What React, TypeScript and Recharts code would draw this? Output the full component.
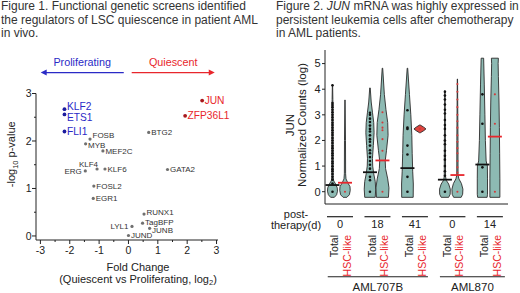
import React from "react";
import {
  ScatterChart,
  ComposedChart,
  Scatter,
  XAxis,
  YAxis,
  ReferenceLine,
} from "recharts";

const FONT = "'Liberation Sans', Arial, Helvetica, sans-serif";
const INK = "#222";
const BLUE = "#2a2ac6";
const BLUE_DOT = "#1c1c9e";
const RED = "#e8262c";
const RED_DOT = "#a8181c";
const GRAY_DOT = "#707070";
const VIOLIN = "#8dbab3";

// ---- Figure 1: screen hits ----
const prolGenes = ["KLF2", "ETS1", "FLI1"];
const prolFold = [-2.18, -2.18, -2.18];
const prolLogP = [2.67, 2.56, 2.2];

const quiesGenes = ["JUN", "ZFP36L1"];
const quiesFold = [2.51, 1.93];
const quiesLogP = [2.85, 2.53];

const otherGenes = [
  "BTG2", "FOSB", "MYB", "MEF2C", "ERG", "KLF4", "KLF6", "FOSL2",
  "EGR1", "GATA2", "RUNX1", "TagBFP", "JUNB", "LYL1", "JUND",
];
const otherFold = [
  0.69, -1.31, -1.46, -0.87, -1.47, -1.07, -0.8, -1.18,
  -1.2, 1.33, 0.53, 0.48, 0.72, 0.12, 0.0,
];
const otherLogP = [
  2.18, 2.04, 1.94, 1.79, 1.37, 1.41, 1.41, 1.05,
  0.79, 1.4, 0.46, 0.27, 0.16, 0.2, 0.01,
];

const foldTicks = [-3, -2.5, -2, -1.5, -1, -0.5, 0, 0.5, 1, 1.5, 2, 2.5, 3];
const logPTicks = [0, 0.5, 1, 1.5, 2, 2.5, 3];

// label placement (style, not data)
const labelLeft = ["ERG", "LYL1"];
const labelAboveLeft = ["KLF4"];
const labelNudge: Record<string, number> = {
  KLF2: -2.5,
  ETS1: 3,
  FOSB: -3.5,
  MYB: 1,
  RUNX1: -1.5,
  TagBFP: -1,
  JUNB: 1.5,
};

// arrows above the plot (data coords)
const arrowLevel = 3.44;
const prolArrow = [-0.16, -2.99];
const quiesArrow = [0.11, 2.94];

// ---- Figure 2: JUN expression ----
const sampleX = [1, 2, 4, 5, 7, 8, 10, 11, 13, 14];
const sampleType = [
  "Total", "HSC-like", "Total", "HSC-like", "Total",
  "HSC-like", "Total", "HSC-like", "Total", "HSC-like",
];
const pairDays = ["0", "18", "41", "0", "14"];
const medians = [0.26, 0.35, 0.76, 1.22, 0.92, null, 0.47, 0.65, 1.06, 2.15];

const groupNames = ["AML707B", "AML870"];
const groupFrom = [0.62, 9.6];
const groupTo = [8.64, 14.8];
const groupLevel = -3.32;

// violin outlines: [log count, half width in x units]
const vTotal707d0 = [[-0.22, 0.15], [-0.12, 0.33], [0.02, 0.4], [0.15, 0.38], [0.3, 0.25], [0.42, 0.1], [0.55, 0.05], [1.5, 0.05], [3.0, 0.04], [3.6, 0.03], [4.17, 0.01]];
const vHsc707d0 = [[-0.22, 0.15], [-0.12, 0.35], [0.05, 0.42], [0.2, 0.4], [0.35, 0.22], [0.5, 0.08], [0.7, 0.05], [2.0, 0.04], [3.58, 0.01]];
const vTotal707d18 = [[-0.22, 0.42], [0.1, 0.46], [0.4, 0.42], [0.7, 0.3], [1.0, 0.22], [1.3, 0.2], [1.8, 0.27], [2.3, 0.33], [2.7, 0.3], [3.1, 0.2], [3.5, 0.1], [4.05, 0.02]];
const vHsc707d18 = [[-0.22, 0.48], [0.15, 0.52], [0.5, 0.42], [0.9, 0.25], [1.2, 0.22], [1.6, 0.32], [2.2, 0.45], [2.7, 0.42], [3.2, 0.28], [3.8, 0.15], [4.82, 0.02]];
const vTotal707d41 = [[-0.22, 0.46], [0.3, 0.47], [0.8, 0.42], [1.5, 0.38], [2.2, 0.35], [3.0, 0.27], [3.8, 0.16], [4.82, 0.02]];
const vHsc707d41 = [[2.3, 0.03], [2.38, 0.3], [2.45, 0.48], [2.52, 0.3], [2.6, 0.03]];
const vTotal870d0 = [[-0.22, 0.3], [-0.1, 0.42], [0.1, 0.43], [0.3, 0.3], [0.45, 0.1], [0.6, 0.05], [2.0, 0.04], [3.95, 0.01]];
const vHsc870d0 = [[-0.22, 0.3], [-0.1, 0.42], [0.1, 0.44], [0.32, 0.32], [0.5, 0.12], [0.65, 0.05], [2.0, 0.045], [4.4, 0.01]];
const vTotal870d14 = [[-0.22, 0.38], [-0.1, 0.41], [0.5, 0.41], [1.0, 0.4], [1.2, 0.3], [2.0, 0.24], [3.0, 0.2], [4.2, 0.15], [5.21, 0.1]];
const vHsc870d14 = [[-0.22, 0.4], [0.5, 0.4], [1.5, 0.38], [2.5, 0.36], [3.5, 0.33], [4.5, 0.28], [5.0, 0.26], [5.21, 0.28]];
const violinProfiles = [
  vTotal707d0, vHsc707d0, vTotal707d18, vHsc707d18, vTotal707d41,
  vHsc707d41, vTotal870d0, vHsc870d0, vTotal870d14, vHsc870d14,
];

// single cells
const dTotal707d0 = [0, 0.32, 0.47, 0.58, 0.69, 0.8, 0.88, 0.99, 1.1, 1.18, 1.3, 1.41, 1.5, 1.6, 1.7, 1.79, 1.9, 2.0, 2.1, 2.21, 2.3, 2.4, 2.5, 2.6, 2.69, 2.8, 2.9, 3.0, 3.1, 3.2, 3.3, 3.38, 3.46, 4.15];
const dHsc707d0 = [0];
const dTotal707d18 = [0, 0.45, 0.58, 0.9, 1.05, 1.2, 1.35, 1.5, 1.62, 1.8, 1.95, 2.05, 2.2, 2.35, 2.45, 2.58, 2.72, 2.85, 3.0, 3.08];
const dHsc707d18 = [0, 1.6, 2.05, 2.4, 2.5, 2.7, 3.1];
const dTotal707d41 = [0, 0.58, 1.45, 1.8, 2.45, 2.5, 3.18];
const dHsc707d41 = [2.45];
const dTotal870d0 = [0, 0.62, 0.8, 1.0, 1.25, 1.4, 1.6, 1.85, 2.0, 2.2, 2.45, 2.6, 2.8, 3.05, 3.2, 3.4, 3.6, 3.75, 3.9];
const dHsc870d0 = [0, 0.75, 0.95, 1.2, 1.5, 1.7, 1.95, 2.2, 2.5, 2.75, 3.0, 3.3, 3.6, 3.9, 4.2];
const dTotal870d14 = [0, 0.95, 2.65, 3.8];
const dHsc870d14 = [0, 2.65, 3.8];
const cellValues = [
  dTotal707d0, dHsc707d0, dTotal707d18, dHsc707d18, dTotal707d41,
  dHsc707d41, dTotal870d0, dHsc870d0, dTotal870d14, dHsc870d14,
];

const countTicks = [0, 1, 2, 3, 4, 5];

// ---------- helpers ----------
const toPoints = (genes: string[], fold: number[], p: number[]) =>
  genes.map((g, i) => ({ gene: g, x: fold[i], y: p[i] }));

const outline = (cx: number, prof: number[][]) => {
  const right = prof.map(([y, w]) => ({ x: cx + w, y }));
  const left = [...prof].reverse().map(([y, w]) => ({ x: cx - w, y }));
  return [...right, ...left, right[0]];
};

const Hidden = () => <g />;

function GeneMark(props: any) {
  const { cx, cy, payload, dot, color, size, r } = props;
  let tx = cx + 2.5;
  let ty = cy + size * 0.35 + (labelNudge[payload.gene] ?? 0);
  let anchor = "start";
  if (labelLeft.includes(payload.gene)) {
    tx = cx - 3.5;
    anchor = "end";
  } else if (labelAboveLeft.includes(payload.gene)) {
    tx = cx + 1;
    ty = cy - 2.5;
    anchor = "end";
  }
  return (
    <g>
      <circle cx={cx} cy={cy} r={r} fill={dot} />
      <text x={tx} y={ty} fontSize={size} fill={color} textAnchor={anchor} fontFamily={FONT}>
        {payload.gene}
      </text>
    </g>
  );
}

function FoldTick(props: any) {
  const { x, y, payload } = props;
  const major = Number.isInteger(payload.value);
  return (
    <g>
      <line x1={x} x2={x} y1={y} y2={y + (major ? 4 : 2)} stroke={INK} />
      {major && (
        <text x={x} y={y + 13.5} textAnchor="middle" fontSize={10.5} fill={INK} fontFamily={FONT}>
          {payload.value}
        </text>
      )}
    </g>
  );
}

function LogPTick(props: any) {
  const { x, y, payload } = props;
  const major = Number.isInteger(payload.value);
  return (
    <g>
      <line x1={x - (major ? 4 : 2)} x2={x} y1={y} y2={y} stroke={INK} />
      {major && (
        <text x={x - 4.5} y={y + 3.8} textAnchor="end" fontSize={10.5} fill={INK} fontFamily={FONT}>
          {payload.value}
        </text>
      )}
    </g>
  );
}

function Arrow(props: any) {
  const { x1, y1, x2, y2, color, text } = props;
  const dir = x2 > x1 ? 1 : -1;
  return (
    <g>
      <line x1={x1} y1={y1} x2={x2 - dir * 5} y2={y2} stroke={color} strokeWidth={1.2} />
      <polygon
        points={`${x2},${y2} ${x2 - dir * 6},${y2 - 3} ${x2 - dir * 6},${y2 + 3}`}
        fill={color}
      />
      <text x={(x1 + x2) / 2} y={y1 - 7} textAnchor="middle" fontSize={10.8} fill={color} fontFamily={FONT}>
        {text}
      </text>
    </g>
  );
}

function FoldLabel(props: any) {
  const { viewBox } = props;
  const cx = viewBox.x + viewBox.width / 2 + 11;
  const y0 = viewBox.y;
  return (
    <g fontFamily={FONT} fill={INK} fontSize={11}>
      <text x={cx} y={y0 + 30.5} textAnchor="middle">Fold Change</text>
      <text x={cx} y={y0 + 42.5} textAnchor="middle">
        (Quiescent vs Proliferating, log
        <tspan fontSize={7.5} dy={2.5}>2</tspan>
        <tspan dy={-2.5}>)</tspan>
      </text>
    </g>
  );
}

function LogPLabel(props: any) {
  const { viewBox } = props;
  const x = viewBox.x - 1;
  const y = viewBox.y + viewBox.height / 2 - 12.5;
  return (
    <text
      transform={`rotate(-90, ${x}, ${y})`}
      x={x}
      y={y}
      textAnchor="middle"
      fontSize={11}
      fill={INK}
      fontFamily={FONT}
    >
      -log
      <tspan fontSize={7.5} dy={2.5}>10</tspan>
      <tspan dy={-2.5}> p-value</tspan>
    </text>
  );
}

function ScreenChart() {
  return (
    <ScatterChart width={260} height={293} margin={{ top: 93.5, right: 42, bottom: 33, left: 16 }}>
      <XAxis
        type="number"
        dataKey="x"
        domain={[-3.15, 3.05]}
        ticks={foldTicks}
        interval={0}
        tick={<FoldTick />}
        tickLine={false}
        tickSize={0}
        tickMargin={0}
        height={20}
        axisLine={{ stroke: INK }}
        label={<FoldLabel />}
      />
      <YAxis
        type="number"
        dataKey="y"
        domain={[-0.085, 3]}
        ticks={logPTicks}
        interval={0}
        tick={<LogPTick />}
        tickLine={false}
        tickSize={0}
        tickMargin={0}
        width={20}
        axisLine={{ stroke: INK }}
        label={<LogPLabel />}
      />
      <ReferenceLine
        segment={[{ x: prolArrow[0], y: arrowLevel }, { x: prolArrow[1], y: arrowLevel }]}
        ifOverflow="visible"
        shape={(p: any) => <Arrow {...p} color={BLUE} text="Proliferating" />}
      />
      <ReferenceLine
        segment={[{ x: quiesArrow[0], y: arrowLevel }, { x: quiesArrow[1], y: arrowLevel }]}
        ifOverflow="visible"
        shape={(p: any) => <Arrow {...p} color={RED} text="Quiescent" />}
      />
      <Scatter
        data={toPoints(otherGenes, otherFold, otherLogP)}
        isAnimationActive={false}
        shape={(p: any) => <GeneMark {...p} dot={GRAY_DOT} color="#333" size={8} r={1.6} />}
      />
      <Scatter
        data={toPoints(prolGenes, prolFold, prolLogP)}
        isAnimationActive={false}
        shape={(p: any) => <GeneMark {...p} dot={BLUE_DOT} color={BLUE} size={10.2} r={1.9} />}
      />
      <Scatter
        data={toPoints(quiesGenes, quiesFold, quiesLogP)}
        isAnimationActive={false}
        shape={(p: any) => <GeneMark {...p} dot={RED_DOT} color={RED} size={10.2} r={1.9} />}
      />
    </ScatterChart>
  );
}

function SampleTick(props: any) {
  const { x, y, payload } = props;
  const i = sampleX.indexOf(payload.value);
  const hsc = sampleType[i] === "HSC-like";
  return (
    <g fontFamily={FONT}>
      {!hsc && (
        <g>
          <line x1={x - 5.5} x2={x + 20.5} y1={y + 12.7} y2={y + 12.7} stroke={INK} strokeWidth={1.2} />
          <text x={x + 7.5} y={y + 24} textAnchor="middle" fontSize={11} fill={INK}>
            {pairDays[Math.floor(i / 2)]}
          </text>
        </g>
      )}
      <text
        transform={`rotate(-90, ${x + 6}, ${y + 31})`}
        x={x + 6}
        y={y + 31}
        textAnchor="end"
        fontSize={10.5}
        fill={hsc ? RED : INK}
      >
        {sampleType[i]}
      </text>
    </g>
  );
}

function CountLabel(props: any) {
  const { viewBox } = props;
  const right = viewBox.x + viewBox.width;
  const cy = viewBox.y + viewBox.height / 2 - 2;
  const bottom = viewBox.y + viewBox.height;
  const xJun = right - 31.5;
  const xNorm = right - 19.5;
  return (
    <g fontFamily={FONT} fill={INK} fontSize={11.5}>
      <text transform={`rotate(-90, ${xJun}, ${cy})`} x={xJun} y={cy} textAnchor="middle">JUN</text>
      <text transform={`rotate(-90, ${xNorm}, ${cy})`} x={xNorm} y={cy} textAnchor="middle">
        Normalized Counts (log)
      </text>
      <text x={right - 29} y={bottom + 14} textAnchor="middle" fontSize={11}>post-</text>
      <text x={right - 29} y={bottom + 25} textAnchor="middle" fontSize={11}>therapy(d)</text>
    </g>
  );
}

function GroupLine(props: any) {
  const { x1, y1, x2, y2, text } = props;
  return (
    <g>
      <line x1={x1} y1={y1} x2={x2} y2={y2} stroke={INK} strokeWidth={1.2} />
      <text x={(x1 + x2) / 2} y={y1 + 14.5} textAnchor="middle" fontSize={11.5} fill={INK} fontFamily={FONT}>
        {text}
      </text>
    </g>
  );
}

function ViolinChart() {
  const totalMedians = sampleX
    .map((x, i) => ({ x, y: medians[i], t: sampleType[i] }))
    .filter((d) => d.y !== null && d.t === "Total");
  const hscMedians = sampleX
    .map((x, i) => ({ x, y: medians[i], t: sampleType[i] }))
    .filter((d) => d.y !== null && d.t === "HSC-like");
  const totalCells = sampleX.flatMap((x, i) =>
    sampleType[i] === "Total" ? cellValues[i].map((y) => ({ x, y })) : []
  );
  const hscCells = sampleX.flatMap((x, i) =>
    sampleType[i] === "HSC-like" ? cellValues[i].map((y) => ({ x, y })) : []
  );

  return (
    <ComposedChart width={260} height={293} margin={{ top: 50, right: 12, bottom: 69, left: 45 }}>
      <XAxis
        type="number"
        dataKey="x"
        domain={[0.4, 15.05]}
        ticks={sampleX}
        interval={0}
        tick={<SampleTick />}
        tickLine={false}
        tickSize={0}
        tickMargin={0}
        height={20}
        axisLine={{ stroke: INK }}
      />
      <YAxis
        type="number"
        dataKey="y"
        domain={[-0.48, 5.53]}
        ticks={countTicks}
        interval={0}
        tickSize={3}
        tickMargin={1.5}
        width={20}
        tick={{ fontSize: 11, fill: INK, fontFamily: FONT }}
        tickLine={{ stroke: INK }}
        axisLine={{ stroke: INK }}
        label={<CountLabel />}
      />
      {violinProfiles.map((prof, i) => (
        <Scatter
          key={`violin-${i}`}
          data={outline(sampleX[i], prof)}
          isAnimationActive={false}
          shape={Hidden}
          line={{
            stroke: "#2b2b2b",
            strokeWidth: 0.9,
            fill: prof === vHsc707d41 ? "#e0453f" : VIOLIN,
          }}
        />
      ))}
      <Scatter
        data={totalMedians}
        isAnimationActive={false}
        shape={(p: any) => (
          <line x1={p.cx - 7} x2={p.cx + 7} y1={p.cy} y2={p.cy} stroke="#111" strokeWidth={1.8} />
        )}
      />
      <Scatter
        data={hscMedians}
        isAnimationActive={false}
        shape={(p: any) => (
          <line x1={p.cx - 7} x2={p.cx + 7} y1={p.cy} y2={p.cy} stroke={RED} strokeWidth={1.8} />
        )}
      />
      <Scatter
        data={totalCells}
        isAnimationActive={false}
        shape={(p: any) => <circle cx={p.cx} cy={p.cy} r={1.3} fill="#111" />}
      />
      <Scatter
        data={hscCells}
        isAnimationActive={false}
        shape={(p: any) => <circle cx={p.cx} cy={p.cy} r={1.05} fill="#d23a3a" />}
      />
      {groupNames.map((g, i) => (
        <ReferenceLine
          key={g}
          segment={[{ x: groupFrom[i], y: groupLevel }, { x: groupTo[i], y: groupLevel }]}
          ifOverflow="visible"
          shape={(p: any) => <GroupLine {...p} text={g} />}
        />
      ))}
    </ComposedChart>
  );
}

const titleStyle: React.CSSProperties = {
  position: "absolute",
  top: 0,
  fontSize: 12,
  lineHeight: "13.5px",
  color: "#333",
  whiteSpace: "nowrap",
};

export default function App() {
  return (
    <div
      style={{
        position: "absolute",
        left: 0,
        top: 0,
        width: 520,
        height: 293,
        background: "#fff",
        fontFamily: FONT,
        overflow: "hidden",
      }}
    >
      <div style={{ ...titleStyle, left: 1 }}>
        Figure 1. Functional genetic screens identified
        <br />
        the regulators of LSC quiescence in patient AML
        <br />
        in vivo.
      </div>
      <div style={{ ...titleStyle, left: 276 }}>
        Figure 2. <i>JUN</i> mRNA was highly expressed in
        <br />
        persistent leukemia cells after chemotherapy
        <br />
        in AML patients.
      </div>
      <div style={{ position: "absolute", left: 0, top: 0 }}>
        <ScreenChart />
      </div>
      <div style={{ position: "absolute", left: 260, top: 0 }}>
        <ViolinChart />
      </div>
    </div>
  );
}
